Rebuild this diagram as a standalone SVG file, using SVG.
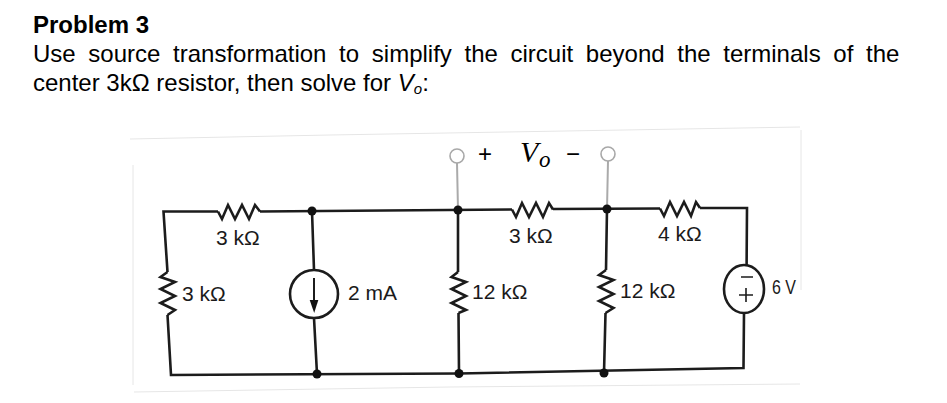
<svg xmlns="http://www.w3.org/2000/svg" width="947" height="403" viewBox="0 0 947 403">
<style>
text{font-family:"Liberation Sans",Arial,sans-serif;fill:#000}
.h{font-size:24px}
.b{font-size:24px}
.l{font-size:21px;fill:#1a1a1a}
.w{fill:none;stroke:#1c1c1c;stroke-width:2.6;stroke-linejoin:miter}
.g{fill:none;stroke:#aaa;stroke-width:2}
.t{fill:#fff;stroke:#a8a8a8;stroke-width:1.6}
.d{fill:#111}
.s{fill:#fff;stroke:#1c1c1c;stroke-width:2.6}
.f{fill:none;stroke:#e6e6e6;stroke-width:1}
.p{font-family:"Liberation Serif",serif;font-style:italic}
</style>
<rect width="947" height="403" fill="#fff"/>
<g id="heading">
<text class="h" x="33" y="33" font-weight="bold">Problem 3</text>
<text class="b" x="33" y="62" word-spacing="6">Use source transformation to simplify the circuit beyond the terminals of the</text>
<text class="b" x="33" y="91">center 3kΩ resistor, then solve for <tspan font-style="italic">V</tspan><tspan font-style="italic" font-size="15" dy="3">o</tspan><tspan dy="-3">:</tspan></text>
</g>
<g id="scan-edges">
<path class="f" d="M130 139L330 135L800 127M133 165V385M801 130V290M134 392L450 387L800 384"/>
</g>
<g id="connectors">
<path class="w" d="M218 211.500H163.500L167.500 272M167.500 315L171 375L459 373.500L743.500 368L744 313M746.600 265L747 208H700"/>
<path class="w" d="M260 211.500L512 209.500M553 209L660 208.500"/>
<path class="w" d="M312 211L314 270M314 318L317 374"/>
<path class="w" d="M458 210V272M458.500 313L459 373"/>
<path class="w" d="M607 209L606 270M605.500 313L604 373"/>
<path class="g" d="M457 163L458 210M608 161L607 209"/>
</g>
<g id="r-top-left"><path class="w" d="M218 211.500L222 219L228 205L235 219L242 205L249 219L255 205L260 211.500"/><text class="l" x="216" y="245">3 kΩ</text></g>
<g id="r-left"><path class="w" d="M167.500 272L160.500 277L175 282L160.500 289L175 296L160.500 303L175 310L167.500 315"/><text class="l" x="182" y="301">3 kΩ</text></g>
<g id="source-2mA"><circle class="s" cx="314" cy="294" r="24"/><path class="w" style="stroke-width:2" d="M314 278V302"/><path class="d" d="M309.700 300H318.300L314.200 313Z"/><text class="l" x="348" y="300">2 mA</text></g>
<g id="r-12k-a"><path class="w" d="M458 272L451.500 277L466 282L451.500 289L466 296L451.500 303L466 310L458.500 313"/><text class="l" x="472" y="299">12 kΩ</text></g>
<g id="r-center"><path class="w" d="M512 209.500L516 217L522 203L529 217L536 203L543 217L549 203L553 209.500"/><text class="l" x="509" y="243">3 kΩ</text></g>
<g id="r-12k-b"><path class="w" d="M606 270L599 275L613.500 280L599 287L613.500 294L599 301L613.500 308L605.500 313"/><text class="l" x="620" y="298">12 kΩ</text></g>
<g id="r-4k"><path class="w" d="M660 208.500L664 216L670 202L677 216L684 202L691 216L696 202L700 208"/><text class="l" x="658" y="241">4 kΩ</text></g>
<g id="source-6V"><ellipse class="s" cx="744" cy="289" rx="20" ry="24"/><path class="w" style="stroke-width:1.600" d="M741 277H753M739 295H753M746 288V302"/><text class="l" x="772" y="294" style="font-size:20px" textLength="24" lengthAdjust="spacingAndGlyphs">6 V</text></g>
<g id="junctions">
<circle class="d" cx="312" cy="211" r="4.500"/><circle class="d" cx="458" cy="210" r="4.500"/><circle class="d" cx="607" cy="209" r="4.500"/>
<circle class="d" cx="317" cy="374" r="4.500"/><circle class="d" cx="459" cy="373.500" r="4.500"/><circle class="d" cx="604" cy="373" r="4.500"/>
</g>
<g id="terminal-plus"><circle class="t" cx="457" cy="156" r="7"/></g>
<g id="terminal-minus"><circle class="t" cx="608" cy="154" r="7"/></g>
<g id="vo-label">
<text x="478" y="162" font-size="24" fill="#333">+</text>
<text class="p" x="520" y="162" font-size="30">V</text><text class="p" x="539" y="167" font-size="23">o</text>
<text x="566" y="162" font-size="24" fill="#333">−</text>
</g>
</svg>
